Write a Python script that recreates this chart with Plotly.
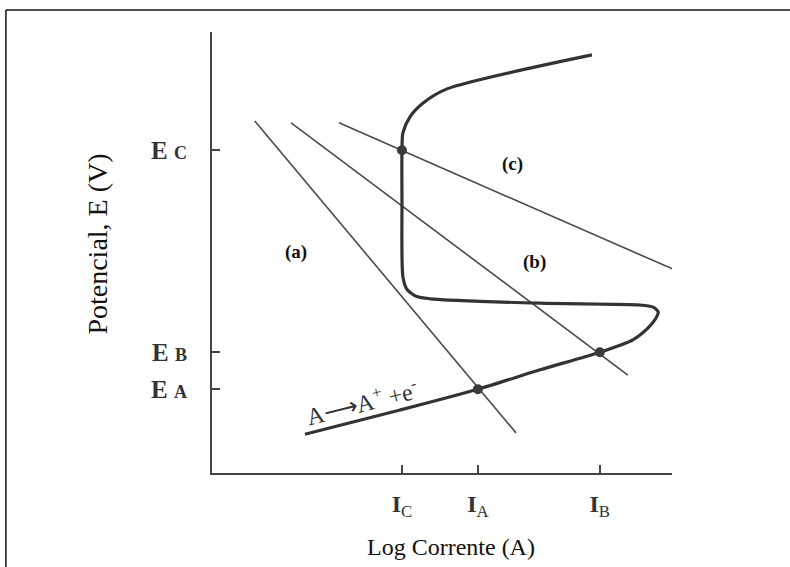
import plotly.graph_objects as go

# Characteristic log-currents and potentials of the three intersections
I_C, I_A, I_B = 4.13, 5.78, 8.43
E_C, E_A, E_B = 7.32, 1.90, 2.74

x_tick_vals = [I_C, I_A, I_B]
x_tick_text = ["<b>I</b><sub>C</sub>", "<b>I</b><sub>A</sub>", "<b>I</b><sub>B</sub>"]
y_tick_vals = [E_A, E_B, E_C]
y_tick_text = [
    "<b>E <span style='font-size:18px'>A</span></b>",
    "<b>E <span style='font-size:18px'>B</span></b>",
    "<b>E <span style='font-size:18px'>C</span></b>",
]

# Anodic polarization curve of the metal: active, passive and transpassive regions
curve_x = [2.02, 4.09, 5.78, 7.13, 8.43, 9.15, 9.48, 9.65, 9.70, 9.59, 9.30,
           7.13, 4.74, 4.45, 4.24, 4.15, 4.13, 4.13, 4.15, 4.30, 4.59, 5.11, 8.26]
curve_y = [0.88, 1.43, 1.90, 2.34, 2.74, 3.02, 3.29, 3.51, 3.65, 3.76, 3.81,
           3.85, 3.95, 4.00, 4.16, 4.45, 6.19, 7.32, 7.71, 8.07, 8.39, 8.71, 9.48]

# Cathodic (reduction) lines of the three oxidants
line_a_x, line_a_y = [0.93, 6.61], [7.98, 0.91]
line_b_x, line_b_y = [1.72, 9.04], [7.94, 2.22]
line_c_x, line_c_y = [2.76, 10.07], [7.94, 4.60]

# Intersection (mixed-potential) points
point_x = [I_C, I_A, I_B]
point_y = [E_C, E_A, E_B]

thin = dict(color="#4a4a4a", width=1.6)

fig = go.Figure()
for lx, ly in [(line_a_x, line_a_y), (line_b_x, line_b_y), (line_c_x, line_c_y)]:
    fig.add_trace(go.Scatter(x=lx, y=ly, mode="lines", line=thin, hoverinfo="skip"))

fig.add_trace(go.Scatter(
    x=curve_x, y=curve_y, mode="lines",
    line=dict(color="#333333", width=3.2, shape="spline", smoothing=0.7),
    hoverinfo="skip",
))
fig.add_trace(go.Scatter(
    x=point_x, y=point_y, mode="markers",
    marker=dict(color="#3a3a3a", size=10), hoverinfo="skip",
))

serif = "Liberation Serif, Times New Roman, serif"

labels = [("(a)", 1.83, 5.01), ("(b)", 7.00, 4.78), ("(c)", 6.54, 7.01)]
for txt, lx, ly in labels:
    fig.add_annotation(x=lx, y=ly, text=f"<b>{txt}</b>", showarrow=False,
                       font=dict(family=serif, size=19, color="#111111"))

fig.add_annotation(
    x=3.25, y=1.60, text="A\u27F6A<sup>+</sup> +e<sup>-</sup>", showarrow=False,
    textangle=-14, font=dict(family=serif, size=24, color="#333333"),
)

# Axis titles
fig.add_annotation(xref="paper", yref="paper", x=-0.248, y=0.52,
                   xanchor="center", yanchor="middle",
                   text="Potencial, E (V)", textangle=-90, showarrow=False,
                   font=dict(family=serif, size=28, color="#111111"))
fig.add_annotation(xref="paper", yref="paper", x=0.52, y=-0.168,
                   xanchor="center", yanchor="middle",
                   text="Log Corrente (A)", showarrow=False,
                   font=dict(family=serif, size=24, color="#111111"))

# Outer frame (top and left edges)
frame = dict(color="#111111", width=1.5)
fig.add_shape(type="line", xref="paper", yref="paper", x0=-0.448, x1=1.4,
              y0=1.05, y1=1.05, line=frame)
fig.add_shape(type="line", xref="paper", yref="paper", x0=-0.448, x1=-0.448,
              y0=-0.3, y1=1.05, line=frame)

fig.update_layout(
    width=790, height=567,
    margin=dict(l=212, r=118, t=32, b=94),
    paper_bgcolor="white", plot_bgcolor="white",
    showlegend=False,
)
fig.update_xaxes(
    range=[0, 10], showgrid=False, zeroline=False,
    showline=True, linecolor="#444444", linewidth=2,
    ticks="inside", ticklen=8, tickwidth=2, tickcolor="#444444",
    tickvals=x_tick_vals, ticktext=x_tick_text, ticklabelstandoff=8,
    tickfont=dict(family=serif, size=24, color="#333333"),
)
fig.update_yaxes(
    range=[0, 10], showgrid=False, zeroline=False,
    showline=True, linecolor="#444444", linewidth=2,
    ticks="inside", ticklen=8, tickwidth=2, tickcolor="#444444",
    tickvals=y_tick_vals, ticktext=y_tick_text, ticklabelstandoff=18,
    tickfont=dict(family=serif, size=25, color="#333333"),
)

fig.write_html("out.html")
